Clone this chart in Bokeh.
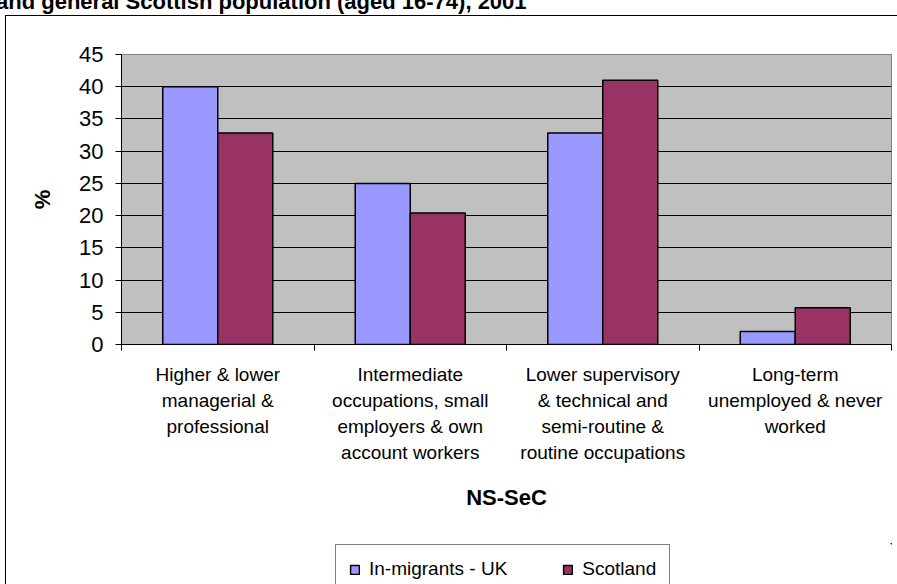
from bokeh.plotting import figure
from bokeh.models import ColumnDataSource, FixedTicker, Legend, LegendItem, Div
from bokeh.layouts import column
from bokeh.embed import file_html
from bokeh.resources import INLINE
from bokeh.transform import dodge

# ---- data ----
categories = [
    "Higher & lower\nmanagerial &\nprofessional",
    "Intermediate\noccupations, small\nemployers & own\naccount workers",
    "Lower supervisory\n& technical and\nsemi-routine &\nroutine occupations",
    "Long-term\nunemployed & never\nworked",
]
series_names = ["In-migrants - UK", "Scotland"]
inmigrants_uk = [40.0, 25.0, 32.8, 2.0]
scotland = [32.8, 20.4, 41.0, 5.7]
y_ticks = [0, 5, 10, 15, 20, 25, 30, 35, 40, 45]
title_text = "and general Scottish population (aged 16-74), 2001"
x_title = "NS-SeC"
y_title = "%"

FONT = "Liberation Sans"
BLUE = "#9999FF"
MAROON = "#993366"

centers = [i + 0.5 for i in range(len(categories))]
source = ColumnDataSource(dict(x=centers, uk=inmigrants_uk, sc=scotland))

W = 891
H_MAIN = 527
H_LEG = 41

p = figure(width=W, height=H_MAIN, output_backend="svg", toolbar_location=None,
           x_range=(0, len(categories)), y_range=(y_ticks[0], y_ticks[-1]),
           min_border_left=115, min_border_top=38, min_border_right=6,
           min_border_bottom=H_MAIN - 328)

p.background_fill_color = "#C0C0C0"
p.border_fill_color = "white"
p.outline_line_color = "#808080"
p.outline_line_width = 1

bw = 1 / 3.5
r1 = p.vbar(x=dodge("x", -bw / 2, range=p.x_range), top="uk", width=bw, source=source,
            fill_color=BLUE, line_color="black", line_width=1.5)
r2 = p.vbar(x=dodge("x", bw / 2, range=p.x_range), top="sc", width=bw, source=source,
            fill_color=MAROON, line_color="black", line_width=1.5)

# grid
p.xgrid.visible = False
p.ygrid.ticker = FixedTicker(ticks=y_ticks)
p.ygrid.grid_line_color = "black"
p.ygrid.grid_line_width = 1

# y axis
ya = p.yaxis[0]
ya.ticker = FixedTicker(ticks=y_ticks)
ya.major_tick_out = 6
ya.major_tick_in = 0
ya.minor_tick_out = 0
ya.minor_tick_in = 0
ya.axis_line_color = "black"
ya.major_tick_line_color = "black"
ya.major_label_text_font = FONT
ya.major_label_text_font_size = "22px"
ya.major_label_text_color = "black"
ya.major_label_standoff = 12
ya.axis_label = y_title
ya.axis_label_text_font = FONT
ya.axis_label_text_font_size = "22px"
ya.axis_label_text_font_style = "bold"
ya.axis_label_text_color = "black"
ya.axis_label_standoff = 21

# x axis
xa = p.xaxis[0]
xa.ticker = FixedTicker(ticks=centers, minor_ticks=list(range(len(categories) + 1)))
xa.major_label_overrides = {c: lab for c, lab in zip(centers, categories)}
xa.major_tick_out = 0
xa.major_tick_in = 0
xa.minor_tick_out = 6
xa.minor_tick_in = 0
xa.minor_tick_line_color = "black"
xa.axis_line_color = "black"
xa.major_label_text_font = FONT
xa.major_label_text_font_size = "19px"
xa.major_label_text_line_height = 1.25
xa.major_label_text_color = "black"
xa.major_label_standoff = 13
xa.axis_label = x_title
xa.axis_label_text_font = FONT
xa.axis_label_text_font_size = "22px"
xa.axis_label_text_font_style = "bold"
xa.axis_label_text_color = "black"
xa.axis_label_standoff = 19

# legend strip: its own small figure; the legend box runs off the page bottom.
# The strip's ranges keep its (same-data) bars out of view; only the legend shows.
lg = figure(width=W, height=H_LEG, output_backend="svg", toolbar_location=None,
            x_axis_type=None, y_axis_type=None, x_range=(-20, -19), y_range=(-20, -19),
            min_border_left=0, min_border_right=0, min_border_top=0,
            min_border_bottom=0)
lg.grid.visible = False
lg.outline_line_color = None
lg.background_fill_color = "white"
lg.border_fill_color = "white"
k1 = lg.vbar(x="x", top="uk", width=bw, source=source, fill_color=BLUE,
             line_color="black", line_width=1.5)
k2 = lg.vbar(x="x", top="sc", width=bw, source=source, fill_color=MAROON,
             line_color="black", line_width=1.5)
legend = Legend(items=[LegendItem(label=series_names[0], renderers=[k1]),
                       LegendItem(label=series_names[1], renderers=[k2])],
                orientation="horizontal", location=(214, -10),
                padding=13, margin=0, spacing=55, label_standoff=9,
                glyph_width=11, glyph_height=11, label_height=22,
                label_text_font=FONT, label_text_font_size="19px",
                label_text_color="black",
                border_line_color="black", border_line_width=1,
                background_fill_color="white", background_fill_alpha=1)
lg.add_layout(legend, "center")

# title: only its lower part is visible at the top of the page
title_div = Div(text=title_text, width=880, height=24, margin=(-9, 0, 0, -4),
                styles={"font-family": FONT, "font-size": "22px",
                        "font-weight": "bold", "line-height": "22px",
                        "white-space": "nowrap", "color": "black"})

chart = column(p, lg, spacing=0,
               styles={"margin-left": "5px", "border-left": "1px solid black",
                       "border-top": "1px solid black"})
layout = column(title_div, chart, spacing=0)
open("out.html", "w").write(file_html(layout, INLINE))
